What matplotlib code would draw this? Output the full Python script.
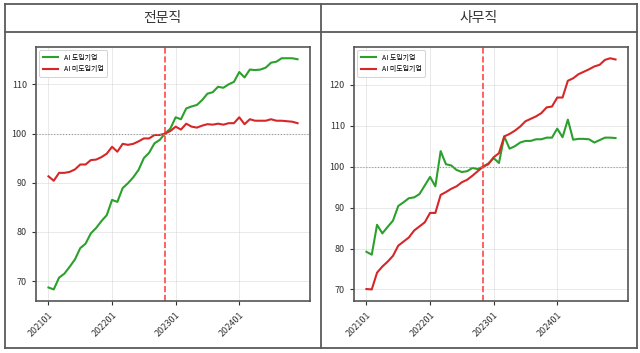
import matplotlib
matplotlib.use("Agg")
import matplotlib.pyplot as plt
from matplotlib.lines import Line2D
from matplotlib.ticker import MultipleLocator
import numpy as np

plt.rcParams['font.family'] = ['Noto Sans CJK KR', 'DejaVu Sans']

# ---------------- data ----------------
months = [f"{y}{m:02d}" for y in (2021, 2022, 2023, 2024) for m in range(1, 13)]
tick_labels = ["202101", "202201", "202301", "202401"]
base_month = "202211"

panel_titles = ["전문직", "사무직"]
series_names = ["AI 도입기업", "AI 미도입기업"]

prof_adopt = [68.7, 68.3, 70.7, 71.5, 72.9, 74.4, 76.7, 77.6, 79.7, 80.8, 82.2, 83.4,
              86.5, 86.1, 88.9, 89.9, 91.1, 92.6, 95.0, 96.1, 98.0, 98.7, 100.0, 101.0,
              103.3, 102.9, 105.1, 105.5, 105.8, 106.8, 108.1, 108.4, 109.5, 109.3, 110.0, 110.5,
              112.5, 111.4, 113.0, 112.9, 113.0, 113.4, 114.4, 114.6, 115.3, 115.3, 115.3, 115.1]
prof_non = [91.3, 90.4, 92.0, 92.0, 92.2, 92.7, 93.7, 93.7, 94.6, 94.7, 95.2, 95.9,
            97.3, 96.3, 97.9, 97.7, 97.9, 98.4, 99.0, 99.0, 99.7, 99.7, 100.0, 100.5,
            101.4, 100.8, 102.0, 101.4, 101.2, 101.6, 101.9, 101.8, 102.0, 101.8, 102.1, 102.1,
            103.3, 101.9, 102.9, 102.6, 102.6, 102.6, 102.9, 102.6, 102.6, 102.5, 102.4, 102.1]

office_adopt = [79.2, 78.5, 85.8, 83.7, 85.3, 86.8, 90.4, 91.3, 92.3, 92.5, 93.3, 95.4,
                97.5, 95.2, 103.8, 100.6, 100.3, 99.2, 98.7, 98.9, 99.7, 99.4, 100.0, 100.8,
                102.1, 100.9, 107.4, 104.4, 105.0, 105.9, 106.3, 106.3, 106.7, 106.7, 107.1, 107.1,
                109.3, 107.2, 111.5, 106.6, 106.8, 106.8, 106.7, 105.9, 106.5, 107.1, 107.1, 107.0]
office_non = [70.1, 70.0, 74.1, 75.6, 76.8, 78.2, 80.7, 81.7, 82.7, 84.4, 85.4, 86.4,
              88.7, 88.7, 93.1, 93.8, 94.6, 95.2, 96.2, 96.8, 97.8, 98.9, 100.0, 100.6,
              102.3, 103.3, 107.4, 108.0, 108.8, 109.8, 111.1, 111.7, 112.3, 113.1, 114.5, 114.7,
              116.9, 116.9, 121.0, 121.6, 122.6, 123.2, 123.8, 124.5, 124.9, 126.1, 126.5, 126.2]

panels = [(prof_adopt, prof_non), (office_adopt, office_non)]
colors = ["#2ca02c", "#d62728"]

# ---------------- figure ----------------
W, H = 640, 353
fig = plt.figure(figsize=(W / 100, H / 100), dpi=100)

def fx(px):
    return px / W

def fy(py):
    return 1 - py / H

# table frame
frame_kw = dict(color="#5a5a5a", lw=1.3, transform=fig.transFigure)
L, R, T, B = 4.5, 637, 3.5, 348
for xs, ys in [((L, R), (T, T)), ((L, R), (B, B)), ((L, L), (T, B)), ((R, R), (T, B)),
               ((L, R), (32, 32)), ((320.5, 320.5), (T, B))]:
    fig.add_artist(Line2D([fx(x) for x in xs], [fy(y) for y in ys], **frame_kw))

for i, t in enumerate(panel_titles):
    cx = (L + 320.5) / 2 if i == 0 else (320.5 + R) / 2
    fig.text(fx(cx), fy(18), t, ha="center", va="center", fontsize=10, color="#333333")

ax_lefts = [36, 354]
x = np.arange(len(months))
tick_pos = [months.index(t) for t in tick_labels]
base_idx = months.index(base_month)

for (adopt, non), left in zip(panels, ax_lefts):
    ax = fig.add_axes([fx(left), fy(301), 274 / W, (301 - 46.7) / H])
    ax.plot(x, adopt, color=colors[0], lw=1.5, label=series_names[0])
    ax.plot(x, non, color=colors[1], lw=1.5, label=series_names[1])
    ax.axvline(base_idx, color="#ff3333", ls="--", lw=1.2, alpha=0.9)
    ax.axhline(100, color="#999999", ls=":", lw=0.8)
    ax.set_xticks(tick_pos)
    ax.set_xticklabels(tick_labels, rotation=45, ha="right", rotation_mode="anchor")
    ax.set_xlim(-2.35, len(months) - 1 + 2.35)
    ax.yaxis.set_major_locator(MultipleLocator(10))
    ax.grid(True, color="#cccccc", alpha=0.5, lw=0.6)
    ax.set_axisbelow(True)
    ax.tick_params(labelsize=6.5, colors="#333333", length=3, width=0.8)
    for s in ax.spines.values():
        s.set_color("#555555")
        s.set_linewidth(1.2)
    leg = ax.legend(loc="upper left", fontsize=5, frameon=True, framealpha=1,
                    borderpad=0.5, handlelength=2.2, labelspacing=0.5)
    leg.get_frame().set_edgecolor("#cccccc")
    leg.get_frame().set_linewidth(0.6)

fig.savefig("out.png", dpi=100)
